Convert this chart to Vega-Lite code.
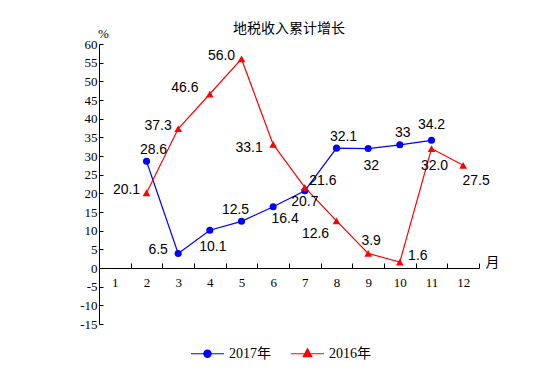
{
 "$schema": "https://vega.github.io/schema/vega-lite/v6.json",
 "width": 380, "height": 280,
 "autosize": "none",
 "padding": {"left": 99, "top": 44, "right": 73, "bottom": 66},
 "background": "white",
 "title": {"text": "地税收入累计增长", "font": "Noto Sans CJK SC", "fontSize": 14, "fontWeight": "normal", "color": "black", "anchor": "middle", "offset": -6, "dy": 3},
 "config": {"view": {"stroke": null}, "text": {"font": "Liberation Sans", "fontSize": 14, "color": "black", "align": "center", "baseline": "middle"}},
 "data": {"values": [
  {"series": "2017年", "month": 2, "value": 28.6, "label": "28.6"},
  {"series": "2017年", "month": 3, "value": 3.9, "label": "6.5"},
  {"series": "2017年", "month": 4, "value": 10.1, "label": "10.1"},
  {"series": "2017年", "month": 5, "value": 12.5, "label": "12.5"},
  {"series": "2017年", "month": 6, "value": 16.4, "label": "16.4"},
  {"series": "2017年", "month": 7, "value": 20.7, "label": "20.7"},
  {"series": "2017年", "month": 8, "value": 32.1, "label": "32.1"},
  {"series": "2017年", "month": 9, "value": 32, "label": "32"},
  {"series": "2017年", "month": 10, "value": 33, "label": "33"},
  {"series": "2017年", "month": 11, "value": 34.2, "label": "34.2"},
  {"series": "2016年", "month": 2, "value": 20.1, "label": "20.1"},
  {"series": "2016年", "month": 3, "value": 37.3, "label": "37.3"},
  {"series": "2016年", "month": 4, "value": 46.6, "label": "46.6"},
  {"series": "2016年", "month": 5, "value": 56.0, "label": "56.0"},
  {"series": "2016年", "month": 6, "value": 33.1, "label": "33.1"},
  {"series": "2016年", "month": 7, "value": 21.6, "label": "21.6"},
  {"series": "2016年", "month": 8, "value": 12.6, "label": "12.6"},
  {"series": "2016年", "month": 9, "value": 3.9, "label": "3.9"},
  {"series": "2016年", "month": 10, "value": 1.6, "label": "1.6"},
  {"series": "2016年", "month": 11, "value": 32.0, "label": "32.0"},
  {"series": "2016年", "month": 12, "value": 27.5, "label": "27.5"}
 ]},
 "encoding": {
  "x": {"field": "month", "type": "ordinal",
   "scale": {"type": "band", "domain": [1,2,3,4,5,6,7,8,9,10,11,12], "paddingInner": 0, "paddingOuter": 0},
   "axis": {"title": "月", "orient": "bottom", "offset": -56, "labelAngle": 0, "tickBand": "extent", "tickSize": -5, "tickColor": "black", "domainColor": "black", "labelFont": "Liberation Serif", "labelFontSize": 13, "labelColor": "black", "labelPadding": 13, "titleFont": "Noto Sans CJK SC", "titleFontSize": 14, "titleFontWeight": "normal", "titleColor": "black", "titleX": 393, "titleY": -6, "titleBaseline": "middle", "titleAlign": "center", "grid": false}},
  "y": {"field": "value", "type": "quantitative",
   "scale": {"domain": [-15, 60], "nice": false, "zero": false},
   "axis": {"title": "%", "values": [-15,-10,-5,0,5,10,15,20,25,30,35,40,45,50,55,60], "labelExpr": "'' + datum.value", "tickSize": -4, "tickColor": "black", "domainColor": "black", "labelFont": "Liberation Serif", "labelFontSize": 13, "labelColor": "black", "labelPadding": 6, "labelFlush": false, "labelOverlap": false, "grid": false, "titleAngle": 0, "titleX": 4, "titleY": -11, "titleAlign": "center", "titleBaseline": "middle", "titleFont": "Liberation Serif", "titleFontSize": 13, "titleFontWeight": "normal", "titleColor": "black"}}
 },
 "layer": [
  {"mark": {"type": "line", "strokeWidth": 1.2},
   "encoding": {"color": {"field": "series", "type": "nominal",
    "scale": {"domain": ["2017年", "2016年"], "range": ["#0000ff", "#ff0000"]},
    "legend": {"title": null, "orient": "none", "legendX": 91, "legendY": 292, "direction": "horizontal", "symbolSize": 1089, "symbolStrokeWidth": 1.2, "labelFont": "Liberation Serif, Noto Sans CJK SC", "labelFontSize": 14, "labelColor": "black", "labelOffset": 4, "columnPadding": 17,
     "encode": {"symbols": {"update": {
      "shape": {"signal": "datum.value === '2017年' ? 'M-1,0L1,0M-0.22,0A0.22,0.22,0,1,1,0.22,0A0.22,0.22,0,1,1,-0.22,0Z' : 'M-1,0L1,0M0,-0.3L0.26,0.18L-0.26,0.18Z'"},
      "fill": {"signal": "datum.value === '2017年' ? '#0000ff' : '#ff0000'"},
      "stroke": {"signal": "datum.value === '2017年' ? '#0000ff' : '#ff0000'"},
      "opacity": {"value": 1}}}}}}}},
  {"transform": [{"filter": "datum.series === '2017年'"}],
   "mark": {"type": "point", "shape": "circle", "filled": true, "opacity": 1, "size": 50},
   "encoding": {"color": {"field": "series", "type": "nominal"}}},
  {"transform": [{"filter": "datum.series === '2016年'"}],
   "mark": {"type": "point", "shape": "triangle-up", "filled": true, "opacity": 1, "size": 60},
   "encoding": {"color": {"field": "series", "type": "nominal"}}},
  {"transform": [{"filter": "indexof(['2017年2','2017年8'], datum.series + datum.month) >= 0"}], "mark": {"type": "text", "dx": 7, "dy": -11}, "encoding": {"text": {"field": "label"}}},
  {"transform": [{"filter": "indexof(['2017年10','2016年9'], datum.series + datum.month) >= 0"}], "mark": {"type": "text", "dx": 3, "dy": -12}, "encoding": {"text": {"field": "label"}}},
  {"transform": [{"filter": "indexof(['2017年11'], datum.series + datum.month) >= 0"}], "mark": {"type": "text", "dx": 0, "dy": -15}, "encoding": {"text": {"field": "label"}}},
  {"transform": [{"filter": "indexof(['2017年5'], datum.series + datum.month) >= 0"}], "mark": {"type": "text", "dx": -6, "dy": -11}, "encoding": {"text": {"field": "label"}}},
  {"transform": [{"filter": "indexof(['2017年7'], datum.series + datum.month) >= 0"}], "mark": {"type": "text", "dx": 0, "dy": 11}, "encoding": {"text": {"field": "label"}}},
  {"transform": [{"filter": "indexof(['2017年6'], datum.series + datum.month) >= 0"}], "mark": {"type": "text", "dx": 12, "dy": 12}, "encoding": {"text": {"field": "label"}}},
  {"transform": [{"filter": "indexof(['2016年12'], datum.series + datum.month) >= 0"}], "mark": {"type": "text", "dx": 13, "dy": 16}, "encoding": {"text": {"field": "label"}}},
  {"transform": [{"filter": "indexof(['2017年4','2017年9','2016年11'], datum.series + datum.month) >= 0"}], "mark": {"type": "text", "dx": 3, "dy": 17}, "encoding": {"text": {"field": "label"}}},
  {"transform": [{"filter": "indexof(['2017年3','2016年2','2016年3','2016年5'], datum.series + datum.month) >= 0"}], "mark": {"type": "text", "dx": -20, "dy": -3}, "encoding": {"text": {"field": "label"}}},
  {"transform": [{"filter": "indexof(['2016年4'], datum.series + datum.month) >= 0"}], "mark": {"type": "text", "dx": -25, "dy": -6}, "encoding": {"text": {"field": "label"}}},
  {"transform": [{"filter": "indexof(['2016年6'], datum.series + datum.month) >= 0"}], "mark": {"type": "text", "dx": -24, "dy": 4}, "encoding": {"text": {"field": "label"}}},
  {"transform": [{"filter": "indexof(['2016年8'], datum.series + datum.month) >= 0"}], "mark": {"type": "text", "dx": -21, "dy": 13}, "encoding": {"text": {"field": "label"}}},
  {"transform": [{"filter": "indexof(['2016年7','2016年10'], datum.series + datum.month) >= 0"}], "mark": {"type": "text", "dx": 18, "dy": -6}, "encoding": {"text": {"field": "label"}}}
 ]
}
